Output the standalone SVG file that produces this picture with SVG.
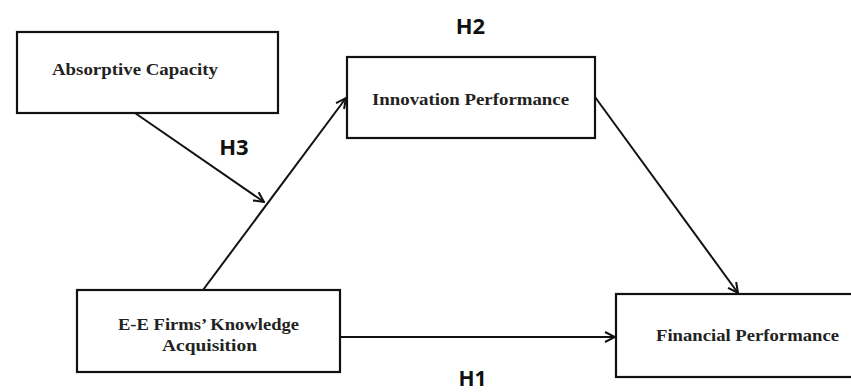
<svg xmlns="http://www.w3.org/2000/svg" width="851" height="392" viewBox="0 0 851 392">
<style>
.box{fill:#fff;stroke:#111;stroke-width:2.2}
.t{font-family:"Liberation Serif","Times New Roman",serif;font-weight:bold;font-size:17px;fill:#222;text-anchor:middle}
.h{font-family:"Noto Sans","DejaVu Sans",sans-serif;font-weight:bold;font-size:22px;fill:#111;text-anchor:middle}
.c{stroke:#111;stroke-width:2;fill:none;marker-end:url(#a)}
</style>
<defs>
<marker id="a" viewBox="0 0 12 12" refX="11" refY="6" markerWidth="12" markerHeight="12" markerUnits="userSpaceOnUse" orient="auto">
<path d="M1,1 L11,6 L1,11" fill="none" stroke="#111" stroke-width="2"/>
</marker>
</defs>
<rect width="851" height="392" fill="#fff"/>
<g id="connectors">
<line class="c" x1="135" y1="113" x2="264" y2="202"/>
<line class="c" x1="203" y1="290" x2="346" y2="98"/>
<line class="c" x1="595" y1="97" x2="738" y2="293"/>
<line class="c" x1="340" y1="337" x2="615" y2="337"/>
</g>
<g id="absorptive">
<rect class="box" x="17" y="32" width="261" height="81"/>
<text class="t" x="135" y="75" textLength="166" lengthAdjust="spacingAndGlyphs">Absorptive Capacity</text>
</g>
<g id="innovation">
<rect class="box" x="347" y="57" width="248" height="81"/>
<text class="t" x="470.5" y="105" textLength="197" lengthAdjust="spacingAndGlyphs">Innovation Performance</text>
</g>
<g id="knowledge">
<rect class="box" x="77" y="290" width="263" height="82"/>
<text class="t" x="208.5" y="330" textLength="181" lengthAdjust="spacingAndGlyphs">E-E Firms’ Knowledge</text>
<text class="t" x="209.5" y="351" textLength="95" lengthAdjust="spacingAndGlyphs">Acquisition</text>
</g>
<g id="financial">
<rect class="box" x="616" y="294" width="240" height="83"/>
<text class="t" x="747.5" y="341" textLength="183" lengthAdjust="spacingAndGlyphs">Financial Performance</text>
</g>
<g id="labels">
<text class="h" x="470.5" y="34">H2</text>
<text class="h" x="234" y="155">H3</text>
<text class="h" x="472.5" y="386" style="font-size:21px">H1</text>
</g>
</svg>
